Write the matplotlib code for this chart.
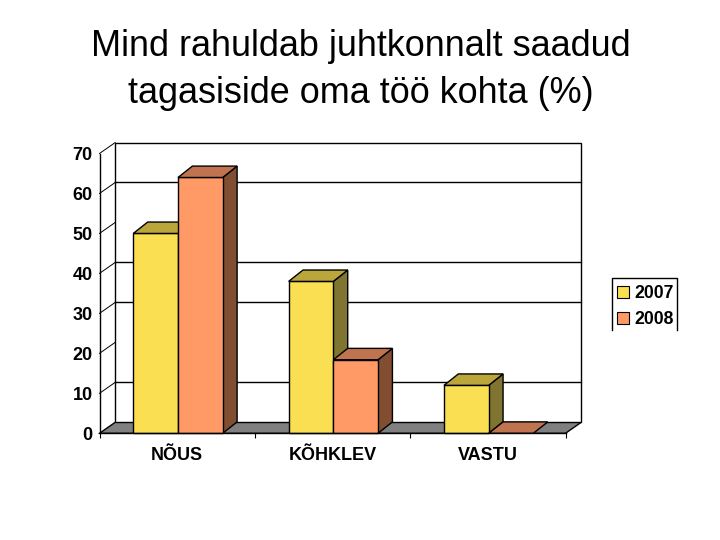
import matplotlib
matplotlib.use("Agg")
import matplotlib.pyplot as plt
from matplotlib.patches import Polygon, Rectangle
from matplotlib.lines import Line2D

title = "Mind rahuldab juhtkonnalt saadud\ntagasiside oma töö kohta (%)"
categories = ["NÕUS", "KÕHKLEV", "VASTU"]
series_names = ["2007", "2008"]
values_2007 = [50, 38, 12]
values_2008 = [64, 18.4, 0]
y_ticks = [0, 10, 20, 30, 40, 50, 60, 70]
wall_lines = [10, 30, 40, 60]

W, H = 720, 540
plt.rcParams["font.family"] = ["Liberation Sans", "DejaVu Sans"]
fig = plt.figure(figsize=(W / 100, H / 100), dpi=100)
L, R, T, B = 99.5, 565.5, 153.5, 433.3
ax = fig.add_axes([L / W, 1 - B / H, (R - L) / W, (B - T) / H])
ax.set_xlim(0, len(categories))
ax.set_ylim(0, 70)
ax.patch.set_visible(False)

UX = (R - L) / len(categories)
DX = 15.7 / UX           # wall depth in category units
DY = 11 / 4              # depth in value units
BDX = 14.4 / UX          # bar depth
BDY = 11.4 / 4
BW = 44.7 / UX
GAP = 33.8 / UX
lw = 1.0
EC = "black"


def poly(pts, fc, z):
    ax.add_patch(Polygon(pts, closed=True, facecolor=fc, edgecolor=EC, linewidth=lw,
                         zorder=z, clip_on=False, joinstyle="miter"))


n = len(categories)
# floor
poly([(0, 0), (DX, DY), (n + DX, DY), (n, 0)], "#808080", 1)
# back wall
ax.add_patch(Rectangle((DX, DY), n, 70, facecolor="white", edgecolor=EC, linewidth=lw,
                       zorder=1, clip_on=False))
# the wall lines that survive in the source picture, and the slanted side lines
for v in wall_lines:
    ax.add_line(Line2D([DX, n + DX], [v + DY, v + DY], color=EC, lw=lw, zorder=1.5, clip_on=False))
for v in y_ticks:
    if v > 0:
        ax.add_line(Line2D([0, DX], [v, v + DY], color=EC, lw=0.7, zorder=1.5, clip_on=False))


def bar3d(x, v, front, top, side, z):
    if v > 0:
        poly([(x + BW, 0), (x + BW + BDX, BDY), (x + BW + BDX, v + BDY), (x + BW, v)], side, z)
        ax.add_patch(Rectangle((x, 0), BW, v, facecolor=front, edgecolor=EC, linewidth=lw,
                               zorder=z, clip_on=False))
    poly([(x, v), (x + BDX, v + BDY), (x + BW + BDX, v + BDY), (x + BW, v)], top, z)


for i in range(n):
    bar3d(i + GAP, values_2007[i], "#F9DF51", "#BBA63C", "#7F7430", 2 + i * 0.1)
    bar3d(i + GAP + BW, values_2008[i], "#FF9966", "#C0734F", "#824E31", 2.05 + i * 0.1)

# axes
for s in ("top", "right"):
    ax.spines[s].set_visible(False)
for s in ("left", "bottom"):
    ax.spines[s].set_linewidth(lw)
    ax.spines[s].set_zorder(3)
ax.set_yticks(y_ticks)
ax.set_yticklabels([str(v) for v in y_ticks], fontsize=13, fontweight="bold")
ax.tick_params(axis="y", length=0, pad=5)
ax.yaxis.get_major_ticks()[0].tick1line.set_markersize(1.5)
ax.set_xticks(range(n + 1))
ax.set_xticklabels([""] * (n + 1))
ax.tick_params(axis="x", which="major", length=3.5, width=0.8)
ax.set_xticks([i + 0.5 for i in range(n)], minor=True)
ax.set_xticklabels(categories, minor=True, fontsize=13, fontweight="bold")
ax.tick_params(axis="x", which="minor", length=0, pad=10)

# title
fig.text(360.5 / W, 1 - 70 / H, title, ha="center", va="center", fontsize=25.9,
         linespacing=1.43, color="black")


def fx(x):
    return x / W


def fy(y):
    return 1 - y / H


# legend, cut off at its lower edge as in the source
xs, ys = [611.5, 611.5, 677, 677], [329.5, 277.5, 277.5, 329.5]
fig.add_artist(Line2D([fx(x) for x in xs], [fy(y) for y in ys], color=EC, lw=1.0))
swatches = ["#F9DF51", "#FF9966"]
for name, col, yc in zip(series_names, swatches, [292, 318]):
    bottom = min(yc + 6, 329)
    fig.add_artist(Rectangle((fx(617), fy(bottom)), 12 / W, (bottom - (yc - 6)) / H,
                             transform=fig.transFigure, facecolor=col, edgecolor=EC,
                             linewidth=0.8))
    fig.text(fx(634), fy(yc + 1.5), name, fontsize=12.7, fontweight="bold", ha="left", va="center")

fig.savefig("out.png", dpi=100)
